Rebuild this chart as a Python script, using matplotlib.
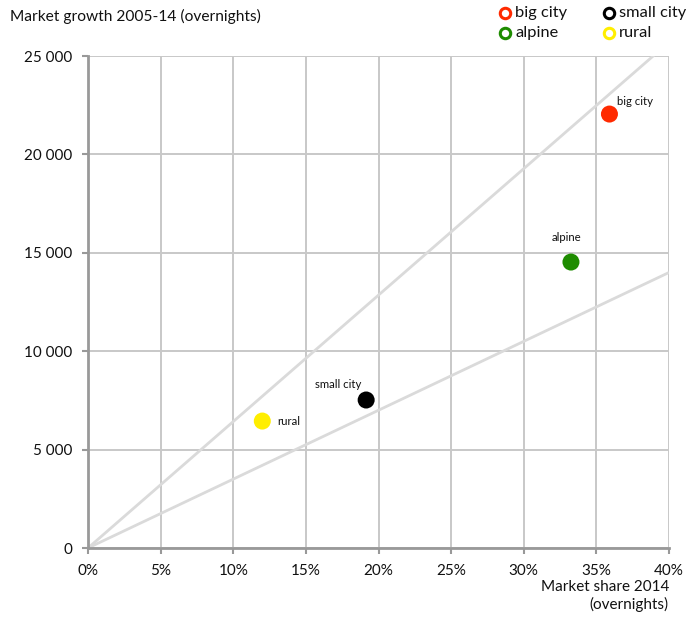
import matplotlib
matplotlib.use("Agg")
import matplotlib.pyplot as plt
from matplotlib.lines import Line2D
from matplotlib.ticker import FuncFormatter

plt.rcParams['font.family'] = ['Lato', 'DejaVu Sans']

# Segments: market share 2014 (%) vs. growth in overnights 2005-14
segments = ["big city", "alpine", "small city", "rural"]
market_share = [35.9, 33.25, 19.15, 12.0]
growth = [22050, 14530, 7520, 6450]
colors = ["#ff2a00", "#1e8c00", "#000000", "#ffee00"]

# Guide rays from the origin (values reached at 40 % share; clipped by the axes)
ray_ends = [25700, 14000]

x_ticks = [0, 5, 10, 15, 20, 25, 30, 35, 40]
y_ticks = [0, 5000, 10000, 15000, 20000, 25000]

W, H = 690, 618
fig = plt.figure(figsize=(W / 100, H / 100), dpi=100)
ax = fig.add_axes([88 / W, 70 / H, 581 / W, 492 / H])

ax.set_xlim(0, 40)
ax.set_ylim(0, 25000)
ax.set_xticks(x_ticks)
ax.set_yticks(y_ticks)
ax.xaxis.set_major_formatter(FuncFormatter(lambda v, p: f"{v:.0f}%"))
ax.yaxis.set_major_formatter(FuncFormatter(lambda v, p: f"{v:,.0f}".replace(",", " ")))

ax.grid(True, color="#c8c8c8", linewidth=1.4, zorder=0)
ax.set_axisbelow(True)
for side in ("top", "right"):
    ax.spines[side].set_visible(False)
for side in ("left", "bottom"):
    ax.spines[side].set_color("#999999")
    ax.spines[side].set_linewidth(2)
ax.tick_params(axis="both", direction="out", length=4.5, width=1.5, color="#999999",
               labelsize=11, labelcolor="#111111")
ax.tick_params(axis="x", pad=7)
ax.tick_params(axis="y", pad=7)

for end in ray_ends:
    ax.plot([0, 40], [0, end], color="#dadada", linewidth=2, zorder=1,
            solid_capstyle="butt", clip_on=True)

ax.scatter(market_share, growth, s=150, c=colors, zorder=3, linewidths=0)

label_pos = {
    "big city": (0.55, 650, "left"),
    "alpine": (-0.3, 1250, "center"),
    "small city": (-1.9, 800, "center"),
    "rural": (1.0, 0, "left"),
}
for name, x, y in zip(segments, market_share, growth):
    dx, dy, ha = label_pos[name]
    ax.text(x + dx, y + dy, name, fontsize=8.2, ha=ha, va="center", color="#111111", zorder=4)

fig.text(10 / W, 1 - 16 / H, "Market growth 2005-14 (overnights)", fontsize=11.2,
         ha="left", va="center", color="#111111")
fig.text(669 / W, 1 - 596 / H, "Market share 2014\n(overnights)", fontsize=11,
         ha="right", va="center", color="#111111", linespacing=1.2)

# Legend: hollow circles in a 2x2 layout
legend_items = [("big city", 0, 505, 13), ("small city", 2, 609, 13),
                ("alpine", 1, 505, 33), ("rural", 3, 609, 33)]
for name, ci, mx, my in legend_items:
    fig.add_artist(Line2D([mx / W], [1 - my / H], transform=fig.transFigure,
                          marker="o", linestyle="none", markersize=7.5,
                          markerfacecolor="none", markeredgecolor=colors[ci],
                          markeredgewidth=2.2))
    fig.text((mx + 10) / W, 1 - my / H, name, fontsize=11.8, ha="left", va="center",
             color="#111111")

fig.savefig("out.png", dpi=100)
